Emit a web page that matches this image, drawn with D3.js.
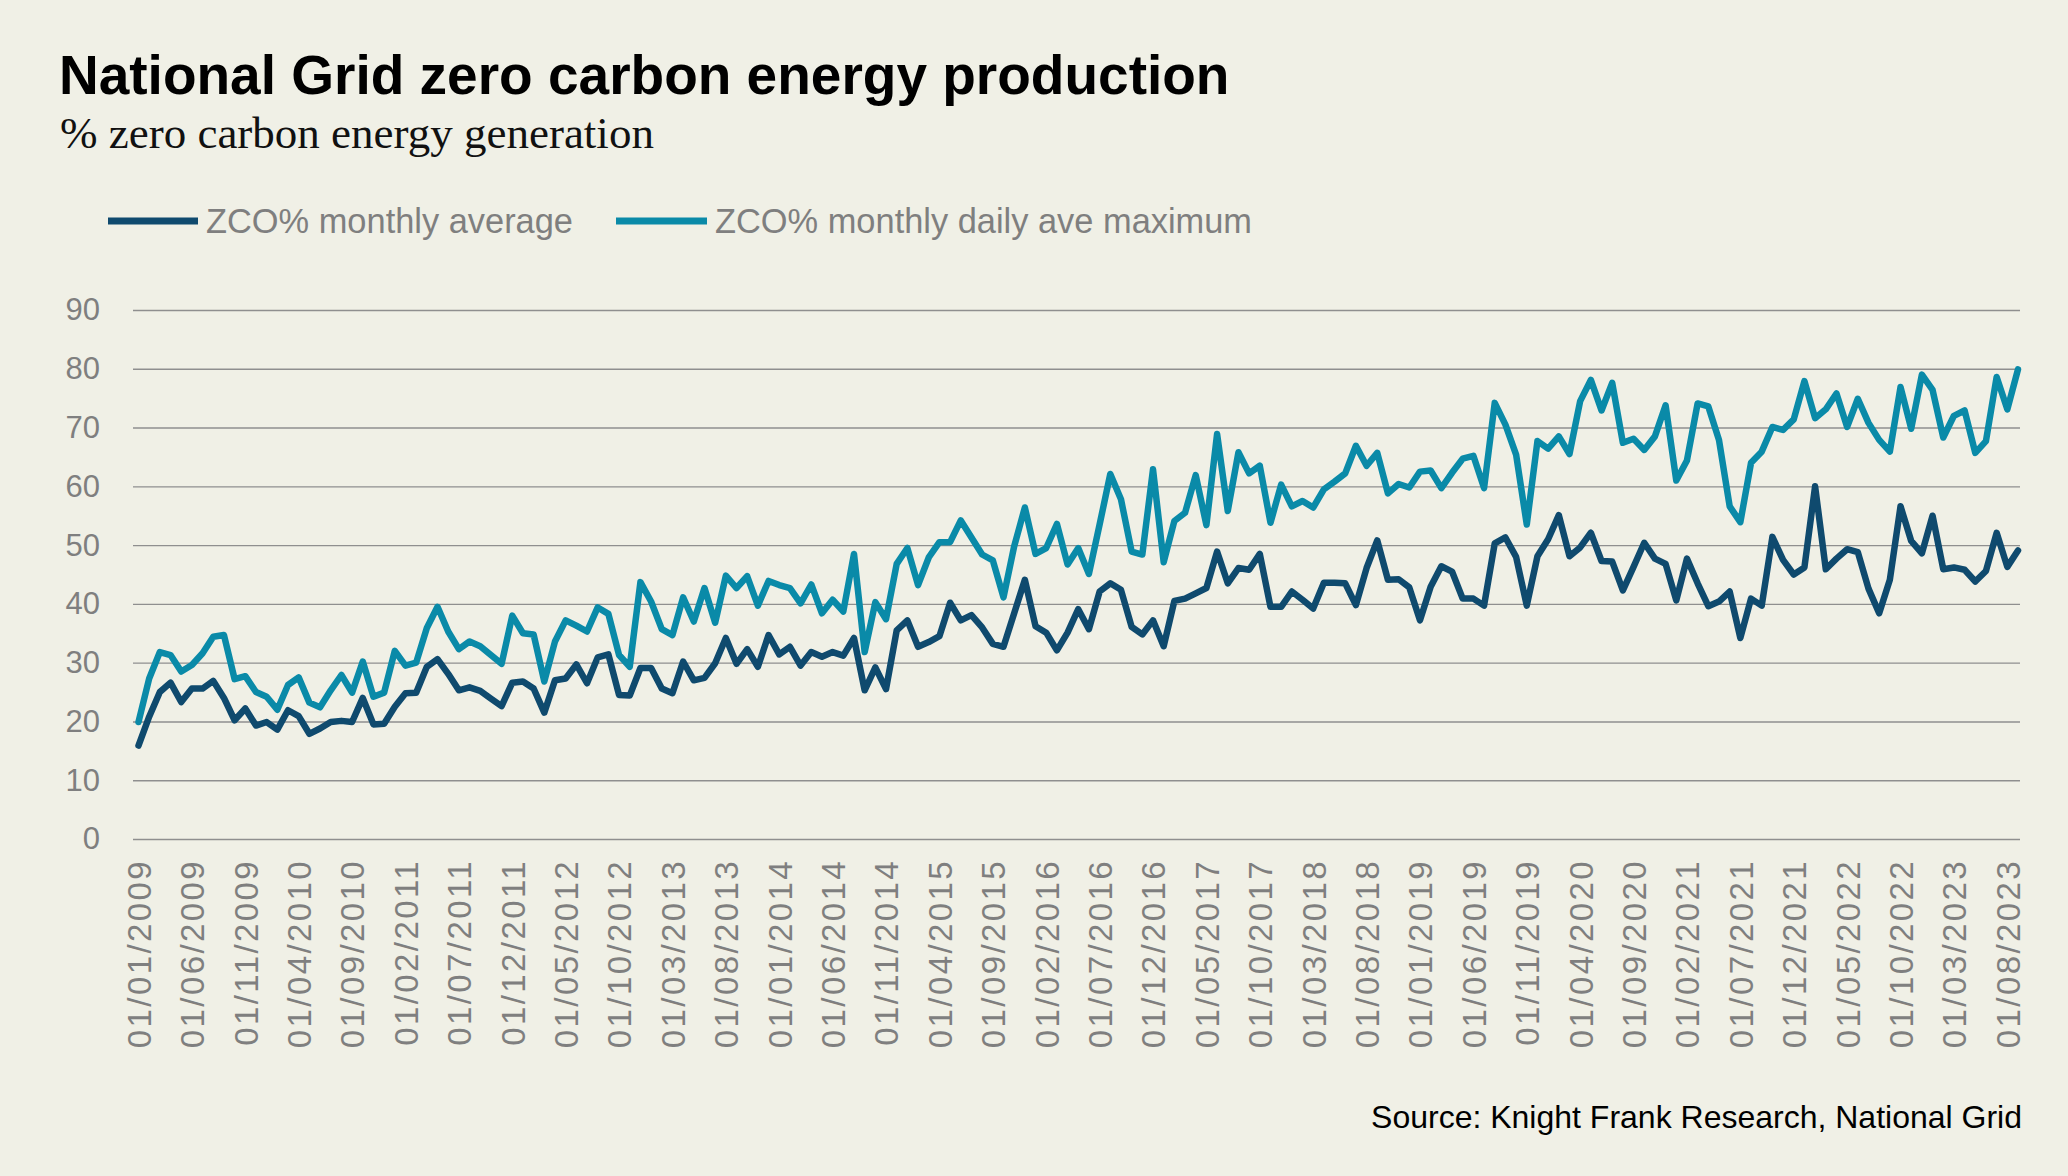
<!DOCTYPE html>
<html>
<head>
<meta charset="utf-8">
<script src="https://cdn.jsdelivr.net/npm/d3@7"></script>
<style>
    body { margin: 0; background: #f0f0e6; }
    text { font-family: "Liberation Sans", Arial, sans-serif; }
</style>
</head>
<body>
<div id="chart"></div>
<script>
// data
const firstMonth = '2009-01-01';

const monthlyAverage = [
    15.9, 20.8, 25.0, 26.6, 23.3, 25.6, 25.6, 26.9, 24.0, 20.2, 22.2, 19.3,
    19.9, 18.6, 21.9, 20.9, 17.9, 18.8, 19.9, 20.1, 19.9, 24.0, 19.5, 19.6,
    22.5, 24.8, 24.9, 29.3, 30.6, 28.1, 25.3, 25.8, 25.2, 23.9, 22.6, 26.6,
    26.8, 25.6, 21.5, 27.0, 27.3, 29.7, 26.5, 30.9, 31.4, 24.5, 24.4, 29.1,
    29.1, 25.6, 24.8, 30.2, 27.0, 27.4, 29.9, 34.2, 29.8, 32.3, 29.3, 34.7,
    31.4, 32.7, 29.5, 31.8, 31.0, 31.8, 31.2, 34.2, 25.3, 29.2, 25.5, 35.5,
    37.2, 32.7, 33.5, 34.5, 40.2, 37.2, 38.1, 36.0, 33.2, 32.7, 38.4, 44.1,
    36.2, 35.1, 32.1, 35.1, 39.1, 35.7, 42.1, 43.5, 42.4, 36.1, 34.8, 37.2,
    32.8, 40.5, 40.9, 41.8, 42.7, 48.9, 43.5, 46.1, 45.8, 48.5, 39.5, 39.5,
    42.1, 40.7, 39.2, 43.6, 43.6, 43.5, 39.8, 46.1, 50.8, 44.1, 44.2, 42.8,
    37.2, 42.9, 46.4, 45.5, 40.9, 40.9, 39.7, 50.3, 51.3, 48.0, 39.7, 48.1,
    51.0, 55.1, 48.1, 49.6, 52.1, 47.3, 47.2, 42.3, 46.3, 50.4, 47.7, 46.8,
    40.6, 47.7, 43.5, 39.6, 40.4, 42.1, 34.2, 40.9, 39.7, 51.4, 47.5, 45.0,
    46.2, 60.0, 45.9, 47.7, 49.3, 48.8, 42.6, 38.4, 44.1, 56.6, 50.7, 48.6,
    55.0, 45.9, 46.2, 45.8, 43.8, 45.6, 52.1, 46.3, 49.1
];

const dailyAveMaximum = [
    19.9, 27.3, 31.8, 31.3, 28.5, 29.6, 31.6, 34.4, 34.7, 27.2, 27.7, 25.0,
    24.2, 22.0, 26.2, 27.5, 23.2, 22.4, 25.3, 27.9, 24.9, 30.2, 24.2, 24.9,
    32.0, 29.5, 30.0, 35.9, 39.5, 35.3, 32.3, 33.6, 32.8, 31.3, 29.8, 38.0,
    35.0, 34.8, 26.8, 33.6, 37.2, 36.3, 35.3, 39.4, 38.3, 31.3, 29.3, 43.7,
    40.4, 35.7, 34.7, 41.1, 37.0, 42.7, 36.8, 44.8, 42.7, 44.7, 39.7, 43.9,
    43.2, 42.7, 40.1, 43.3, 38.4, 40.7, 38.7, 48.5, 31.8, 40.3, 37.4, 46.8,
    49.5, 43.2, 47.9, 50.5, 50.5, 54.2, 51.3, 48.4, 47.4, 41.1, 49.8, 56.4,
    48.5, 49.5, 53.6, 46.7, 49.5, 45.1, 53.5, 62.1, 57.8, 48.9, 48.4, 62.9,
    47.1, 54.1, 55.5, 61.9, 53.4, 68.9, 55.8, 65.8, 62.2, 63.5, 53.8, 60.3,
    56.6, 57.5, 56.4, 59.5, 60.8, 62.2, 66.9, 63.5, 65.7, 58.8, 60.4, 59.8,
    62.5, 62.7, 59.7, 62.3, 64.7, 65.2, 59.7, 74.2, 70.5, 65.4, 53.5, 67.7,
    66.4, 68.5, 65.5, 74.5, 78.1, 72.9, 77.6, 67.4, 68.1, 66.2, 68.5, 73.8,
    61.0, 64.4, 74.1, 73.6, 67.9, 56.6, 53.9, 64.0, 65.9, 70.1, 69.6, 71.4,
    77.9, 71.6, 73.1, 75.8, 70.1, 74.9, 70.8, 67.9, 65.9, 76.9, 69.8, 79.0,
    76.4, 68.3, 72.0, 72.9, 65.7, 67.7, 78.6, 73.1, 79.9
];

const seriesNames = ['ZCO% monthly average', 'ZCO% monthly daily ave maximum'];
const seriesColors = ['#0f4a6e', '#0a8aa8'];

const yTicks = [0, 10, 20, 30, 40, 50, 60, 70, 80, 90];

const xTickLabels = [
    '01/01/2009', '01/06/2009', '01/11/2009', '01/04/2010', '01/09/2010', '01/02/2011',
    '01/07/2011', '01/12/2011', '01/05/2012', '01/10/2012', '01/03/2013', '01/08/2013',
    '01/01/2014', '01/06/2014', '01/11/2014', '01/04/2015', '01/09/2015', '01/02/2016',
    '01/07/2016', '01/12/2016', '01/05/2017', '01/10/2017', '01/03/2018', '01/08/2018',
    '01/01/2019', '01/06/2019', '01/11/2019', '01/04/2020', '01/09/2020', '01/02/2021',
    '01/07/2021', '01/12/2021', '01/05/2022', '01/10/2022', '01/03/2023', '01/08/2023'
];

const draw = () => {
    // dimensions
    const dimensions = {
        width: 2068,
        height: 1176,
        plot: { left: 133, right: 2020, top: 310, bottom: 839 },
        firstX: 138.5,
        lastX: 2018,
    }

    const parseDate = d3.timeParse('%d/%m/%Y');
    const start = d3.timeParse('%Y-%m-%d')(firstMonth);
    const monthIndex = (date) => d3.timeMonth.count(start, date);

    const svg = d3.select('#chart')
        .append('svg')
        .attr('width', dimensions.width)
        .attr('height', dimensions.height)
        .style('background', '#f0f0e6');

    // scales
    const xScale = d3.scaleLinear()
        .domain([0, monthlyAverage.length - 1])
        .range([dimensions.firstX, dimensions.lastX]);

    const yScale = d3.scaleLinear()
        .domain([0, 90])
        .range([dimensions.plot.bottom, dimensions.plot.top]);

    // titles
    svg.append('text')
        .attr('x', 59)
        .attr('y', 94)
        .attr('font-size', 55)
        .attr('font-weight', 'bold')
        .attr('fill', '#000')
        .text('National Grid zero carbon energy production');

    svg.append('text')
        .attr('x', 60)
        .attr('y', 148)
        .attr('font-size', 45)
        .style('font-family', '"Liberation Serif", "Times New Roman", serif')
        .attr('fill', '#111')
        .text('% zero carbon energy generation');

    // legend
    const legendItems = [
        { x1: 108, x2: 198, tx: 206 },
        { x1: 616, x2: 707, tx: 715 },
    ];
    legendItems.forEach((item, i) => {
        svg.append('line')
            .attr('x1', item.x1).attr('x2', item.x2)
            .attr('y1', 221).attr('y2', 221)
            .attr('stroke', seriesColors[i])
            .attr('stroke-width', 7);
        svg.append('text')
            .attr('x', item.tx)
            .attr('y', 233)
            .attr('font-size', 34.4)
            .attr('fill', '#7f7f7f')
            .text(seriesNames[i]);
    });

    // y axis with gridlines
    const yAxis = d3.axisLeft(yScale)
        .tickValues(yTicks)
        .tickSize(-(dimensions.plot.right - dimensions.plot.left))
        .tickPadding(33);

    const yAxisGroup = svg.append('g')
        .attr('transform', `translate(${dimensions.plot.left}, 0)`)
        .call(yAxis);
    yAxisGroup.select('.domain').remove();
    yAxisGroup.selectAll('line')
        .attr('stroke', '#8f8f8f')
        .attr('stroke-width', 1.4);
    yAxisGroup.selectAll('text')
        .attr('font-size', 31)
        .attr('fill', '#7f7f7f')
        .style('font-family', '"Liberation Sans", Arial, sans-serif');

    // x axis, rotated labels
    const xAxis = d3.axisBottom(xScale)
        .tickValues(xTickLabels.map(label => monthIndex(parseDate(label))))
        .tickFormat((value, i) => xTickLabels[i])
        .tickSize(0);

    const xAxisGroup = svg.append('g')
        .attr('transform', `translate(0, ${dimensions.plot.bottom})`)
        .call(xAxis);
    xAxisGroup.select('.domain').remove();
    xAxisGroup.selectAll('text')
        .attr('transform', 'rotate(-90)')
        .attr('x', -20)
        .attr('y', 0)
        .attr('dy', '0.36em')
        .attr('text-anchor', 'end')
        .attr('font-size', 33)
        .attr('letter-spacing', 2.4)
        .attr('fill', '#7f7f7f')
        .style('font-family', '"Liberation Sans", Arial, sans-serif');

    // lines
    const lineGenerator = d3.line()
        .x((d, i) => xScale(i))
        .y(d => yScale(d));

    [monthlyAverage, dailyAveMaximum].forEach((series, i) => {
        svg.append('path')
            .datum(series)
            .attr('d', lineGenerator)
            .attr('fill', 'none')
            .attr('stroke', seriesColors[i])
            .attr('stroke-width', 6.5)
            .attr('stroke-linejoin', 'round')
            .attr('stroke-linecap', 'round');
    });

    // source
    svg.append('text')
        .attr('x', 2022)
        .attr('y', 1128)
        .attr('text-anchor', 'end')
        .attr('font-size', 32)
        .attr('fill', '#000')
        .text('Source: Knight Frank Research, National Grid');
}

draw();
</script>
</body>
</html>
